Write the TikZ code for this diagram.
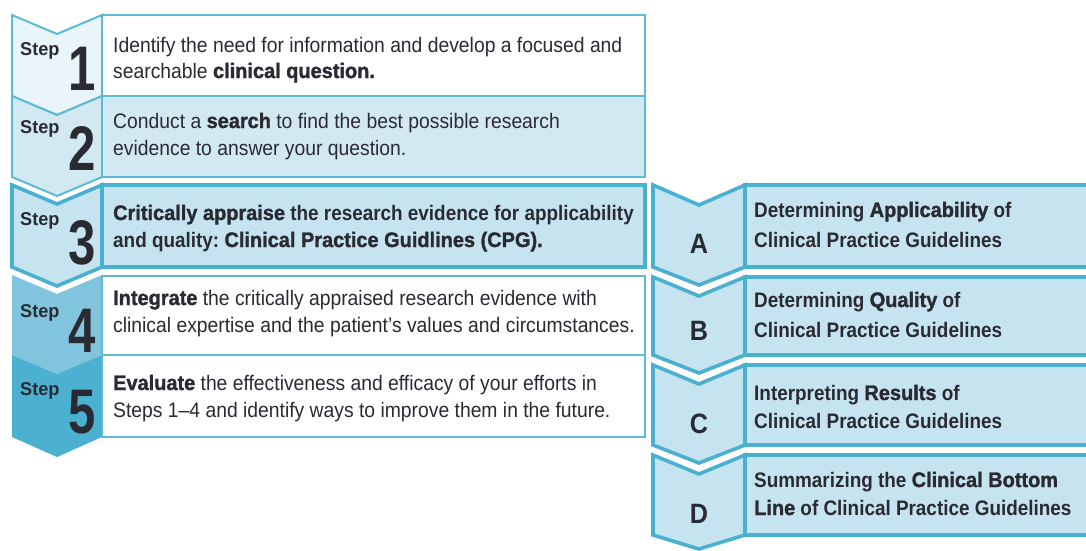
\documentclass[tikz,border=0pt]{standalone}
\usepackage{fontspec}
\setmainfont[FakeStretch=0.92]{Liberation Sans}
\newfontfamily\rgfam[FakeStretch=0.92]{Liberation Sans}
\newfontfamily\mdfam[FakeStretch=0.9]{Liberation Sans}
\newfontfamily\hvfam[FakeStretch=0.95,BoldFeatures={FakeBold=1.5}]{Liberation Sans}
\newfontfamily\stepfam[FakeStretch=0.98]{Liberation Sans}
\newfontfamily\numfam[FakeStretch=0.78]{Liberation Sans}
\newfontfamily\letfam[FakeStretch=0.9]{Liberation Sans}
\newcommand{\hb}[1]{{\hvfam\bfseries #1}}
\frenchspacing
\definecolor{bord}{HTML}{5DBAD5}
\definecolor{bordk}{HTML}{49B0CF}
\definecolor{cA}{HTML}{EAF5F9}
\definecolor{cB}{HTML}{D2E9F2}
\definecolor{cC}{HTML}{C6E4F0}
\definecolor{cD}{HTML}{80C5DD}
\definecolor{cE}{HTML}{4CB1D1}
\definecolor{txtc}{HTML}{2A2A33}
\tikzset{
  thinb/.style={draw=bord, line width=2pt},
  thickb/.style={draw=bordk, line width=3.6pt},
  txt/.style={anchor=base west, inner sep=0pt, text=txtc, font=\fontsize{21}{26}\selectfont\rgfam},
  mtxt/.style={anchor=base west, inner sep=0pt, text=txtc, font=\fontsize{21}{26}\selectfont\mdfam\bfseries},
  steplbl/.style={anchor=base west, inner sep=0pt, text=txtc, font=\fontsize{18.5}{20}\selectfont\stepfam\bfseries},
  numlbl/.style={anchor=base east, inner sep=0pt, text=txtc, font=\fontsize{63}{63}\selectfont\numfam\bfseries},
  letlbl/.style={anchor=base, inner sep=0pt, text=txtc, font=\fontsize{28}{28}\selectfont\letfam\bfseries}
}
\begin{document}
\begin{tikzpicture}[x=1pt,y=-1pt,line join=miter]
\useasboundingbox (0,0) rectangle (1086,550);
\fill[white] (0,0) rectangle (1086,550);
% ---------- left column ----------
% step 1
\draw[thinb, fill=cA] (12,15) -- (57,34) -- (102,15) -- (102,96) -- (57,115) -- (12,96) -- cycle;
\draw[thinb, fill=white] (102,15) rectangle (645,96);
% step 2
\draw[thinb, fill=cB] (12,96) -- (57,115) -- (102,96) -- (102,177) -- (57,196) -- (12,177) -- cycle;
\draw[thinb, fill=cB] (102,96) rectangle (645,177);
% step 3
\draw[thickb, fill=cC] (12,185) -- (57,204) -- (102,185) -- (102,267) -- (57,286) -- (12,267) -- cycle;
\draw[thickb, fill=cC] (102,185) rectangle (645,267);
% step 4
\fill[cD] (12,275) -- (57,294) -- (102,275) -- (102,355) -- (57,374) -- (12,355) -- cycle;
\draw[thinb, fill=white] (102,276) rectangle (645,355);
% step 5
\fill[cE] (12,355) -- (57,374) -- (102,355) -- (102,437) -- (57,457) -- (12,437) -- cycle;
\draw[thinb, fill=white] (102,355) rectangle (645,437);
% ---------- right column ----------
\draw[thickb, fill=cC] (653,185) -- (699,205) -- (745,185) -- (745,267) -- (699,285) -- (653,267) -- cycle;
\draw[thickb, fill=cC] (745,185) rectangle (1095,267);
\draw[thickb, fill=cC] (653,277) -- (699,296) -- (745,277) -- (745,355) -- (699,373) -- (653,355) -- cycle;
\draw[thickb, fill=cC] (745,277) rectangle (1095,355);
\draw[thickb, fill=cC] (653,365) -- (699,384) -- (745,365) -- (745,445) -- (699,463) -- (653,445) -- cycle;
\draw[thickb, fill=cC] (745,365) rectangle (1095,445);
\draw[thickb, fill=cC] (653,455) -- (699,474) -- (745,455) -- (745,535) -- (699,549) -- (653,535) -- cycle;
\draw[thickb, fill=cC] (745,455) rectangle (1095,535);
% ---------- step labels ----------
\node[steplbl] (s1w) at (20,55) {Step};
\node[numlbl] (s1n) at (96,90) {1};
\node[steplbl] (s2w) at (20,133) {Step};
\node[numlbl] (s2n) at (96,170) {2};
\node[steplbl] (s3w) at (20,225) {Step};
\node[numlbl] (s3n) at (96,264) {3};
\node[steplbl] (s4w) at (20,317) {Step};
\node[numlbl] (s4n) at (96,352) {4};
\node[steplbl] (s5w) at (20,395) {Step};
\node[numlbl] (s5n) at (96,433) {5};
% ---------- letters ----------
\node[letlbl] (la) at (699,253) {A};
\node[letlbl] (lb) at (699,340) {B};
\node[letlbl] (lc) at (699,433) {C};
\node[letlbl] (ld) at (699,523) {D};
% ---------- step texts ----------
\node[txt] (t1a) at (113,52) {Identify the need for information and develop a focused and};
\node[txt] (t1b) at (113,78) {searchable \hb{clinical question.}};
\node[txt] (t2a) at (113,128) {Conduct a \hb{search} to find the best possible research};
\node[txt] (t2b) at (113,155) {evidence to answer your question.};
\node[mtxt] (t3a) at (113,220) {\hb{Critically appraise} the research evidence for applicability};
\node[mtxt] (t3b) at (113,247) {and quality: \hb{Clinical Practice Guidlines (CPG).}};
\node[txt] (t4a) at (113,305) {\hb{Integrate} the critically appraised research evidence with};
\node[txt] (t4b) at (113,332) {clinical expertise and the patient’s values and circumstances.};
\node[txt] (t5a) at (113,390) {\hb{Evaluate} the effectiveness and efficacy of your efforts in};
\node[txt] (t5b) at (113,417) {Steps 1–4 and identify ways to improve them in the future.};
% ---------- right texts ----------
\node[mtxt] (ra1) at (754,217) {Determining \hb{Applicability} of};
\node[mtxt] (ra2) at (754,247) {Clinical Practice Guidelines};
\node[mtxt] (rb1) at (754,307) {Determining \hb{Quality} of};
\node[mtxt] (rb2) at (754,337) {Clinical Practice Guidelines};
\node[mtxt] (rc1) at (754,400) {Interpreting \hb{Results} of};
\node[mtxt] (rc2) at (754,428) {Clinical Practice Guidelines};
\node[mtxt] (rd1) at (754,487) {Summarizing the \hb{Clinical Bottom}};
\node[mtxt] (rd2) at (754,515) {\hb{Line} of Clinical Practice Guidelines};
\end{tikzpicture}
\end{document}
